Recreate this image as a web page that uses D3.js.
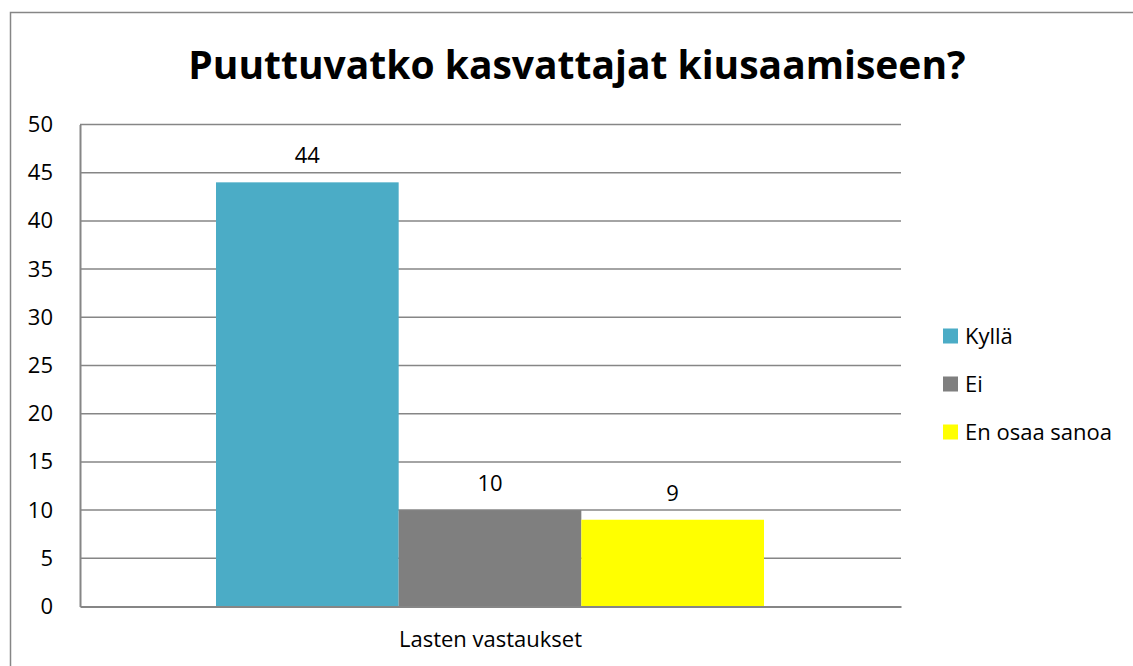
<!DOCTYPE html>
<html lang="fi">
<head>
<meta charset="UTF-8">
<title>Puuttuvatko kasvattajat kiusaamiseen?</title>
<script src="https://d3js.org/d3.v7.min.js"></script>
<style>
  body { margin: 0; background: #fff; }
  svg { display: block; font-family: "Open Sans", "Noto Sans", sans-serif; }
</style>
</head>
<body>
<svg width="1133" height="666"></svg>
<script>
const title = "Puuttuvatko kasvattajat kiusaamiseen?";
const category = "Lasten vastaukset";
const series = ["Kyllä", "Ei", "En osaa sanoa"];
const values = [44, 10, 9];
const colors = ["#4bacc6", "#7f7f7f", "#ffff00"];
const yTicks = [0, 5, 10, 15, 20, 25, 30, 35, 40, 45, 50];

const svg = d3.select("svg");

// chart frame
svg.append("rect")
  .attr("x", 10.5).attr("y", 12.5)
  .attr("width", 1140).attr("height", 700)
  .attr("fill", "none").attr("stroke", "#868686").attr("stroke-width", 1.5);

svg.append("text")
  .attr("x", 577).attr("y", 79)
  .attr("text-anchor", "middle")
  .attr("font-size", 39).attr("font-weight", "bold")
  .text(title);

const plot = { left: 80, right: 901, top: 124.5, bottom: 606.5 };

const y = d3.scaleLinear().domain([0, 50]).range([plot.bottom, plot.top]);
const x0 = d3.scaleBand().domain([category]).range([plot.left, plot.right]);
const x1 = d3.scaleBand().domain(series).range([216, 764]);

// gridlines
svg.append("g")
  .selectAll("line")
  .data(yTicks.filter(d => d > 0))
  .join("line")
  .attr("x1", plot.left).attr("x2", plot.right)
  .attr("y1", d => y(d)).attr("y2", d => y(d))
  .attr("stroke", "#868686").attr("stroke-width", 1.5);

// bars
svg.append("g")
  .selectAll("rect")
  .data(values)
  .join("rect")
  .attr("x", (d, i) => x1(series[i]))
  .attr("y", d => y(d))
  .attr("width", x1.bandwidth())
  .attr("height", d => plot.bottom - y(d))
  .attr("fill", (d, i) => colors[i]);

// value labels
svg.append("g")
  .selectAll("text")
  .data(values)
  .join("text")
  .attr("x", (d, i) => x1(series[i]) + x1.bandwidth() / 2)
  .attr("y", d => y(d) - 19)
  .attr("text-anchor", "middle")
  .attr("font-size", 22)
  .text(d => d);

// axes
const yAxis = svg.append("g")
  .attr("transform", `translate(${plot.left},0)`)
  .call(d3.axisLeft(y).tickValues(yTicks).tickSize(0).tickPadding(27));
yAxis.select(".domain").attr("stroke", "#868686").attr("stroke-width", 2);
yAxis.selectAll("text").attr("font-size", 22).attr("fill", "#000")
  .attr("font-family", "'Open Sans', sans-serif");

const xAxis = svg.append("g")
  .attr("transform", `translate(0,${plot.bottom})`)
  .call(d3.axisBottom(x0).tickSize(0).tickPadding(25));
xAxis.select(".domain").attr("stroke", "#868686").attr("stroke-width", 2);
xAxis.selectAll("text").attr("font-size", 22).attr("fill", "#000")
  .attr("font-family", "'Open Sans', sans-serif");

// legend
const legend = svg.append("g")
  .selectAll("g")
  .data(series)
  .join("g")
  .attr("transform", (d, i) => `translate(943,${336 + i * 48})`);
legend.append("rect")
  .attr("x", 0).attr("y", -7.5)
  .attr("width", 15).attr("height", 15)
  .attr("fill", (d, i) => colors[i]);
legend.append("text")
  .attr("x", 22).attr("y", 0)
  .attr("dy", "0.35em")
  .attr("font-size", 22)
  .text(d => d);
</script>
</body>
</html>
